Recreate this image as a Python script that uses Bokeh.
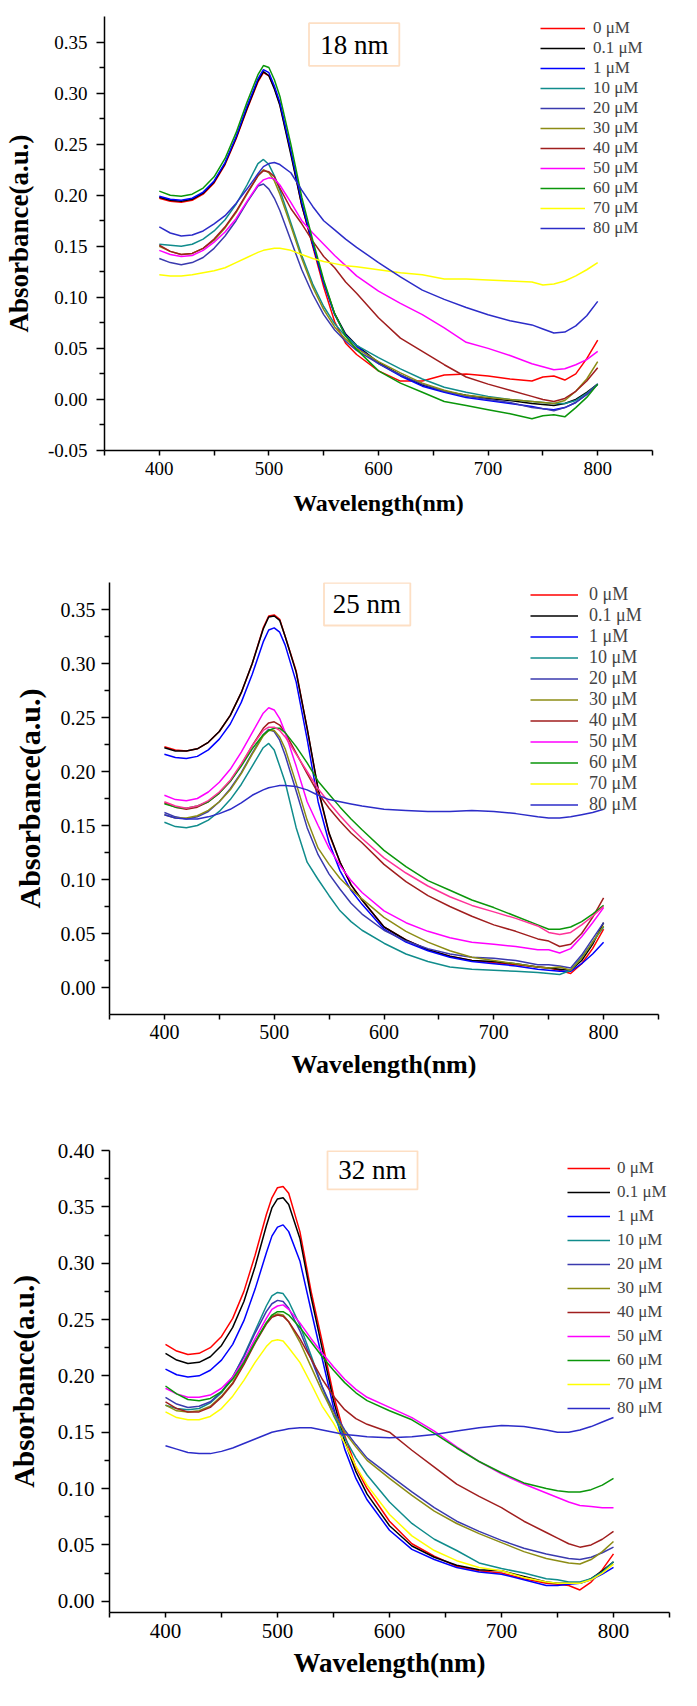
from bokeh.embed import file_html
from bokeh.models import BoxAnnotation, FixedTicker, Label, Legend, LegendItem, PrintfTickFormatter
from bokeh.plotting import figure
from bokeh.resources import INLINE

FONT = "Liberation Serif"

# wavelength grid (nm) shared by every spectrum
wavelength = [400, 410, 420, 430, 440, 450, 460, 470, 480, 490,
              495, 500, 505, 510, 520, 530, 540, 550, 560, 570,
              580, 600, 620, 640, 660, 680, 700, 720, 740, 750,
              760, 770, 780, 790, 800]

conc_labels = ["0 μM", "0.1 μM", "1 μM", "10 μM", "20 μM", "30 μM",
               "40 μM", "50 μM", "60 μM", "70 μM", "80 μM"]
legend_colors = ["#ff0000", "#000000", "#0000ff", "#108c8c", "#3a3aae", "#8c8c14",
                 "#a01e1e", "#ff00ff", "#0a960a", "#ffff00", "#2c2cc8"]

x_ticks = [400, 500, 600, 700, 800]
x_minor = [350, 450, 550, 650, 750, 850]

# ---------------- 18 nm ----------------
s18_0 = [.197, .194, .193, .195, .201, .212, .230, .255, .284, .311,
         .320, .317, .305, .289, .242, .190, .150, .110, .076, .055,
         .044, .028, .018, .018, .024, .025, .023, .020, .018, .022,
         .023, .019, .025, .040, .058]
s18_01 = [.198, .195, .194, .196, .202, .213, .231, .256, .285, .312,
          .321, .317, .304, .288, .240, .190, .152, .115, .084, .064,
          .053, .036, .024, .014, .008, .004, .001, -.001, -.004, -.005,
          -.006, -.004, .000, .007, .015]
s18_1 = [.199, .196, .195, .197, .203, .214, .232, .257, .287, .314,
         .323, .320, .307, .291, .244, .193, .152, .114, .083, .063,
         .052, .035, .023, .013, .007, .002, -.001, -.004, -.007, -.009,
         -.010, -.008, -.003, .005, .015]
s18_10 = [.152, .151, .150, .152, .157, .165, .176, .191, .210, .231,
          .235, .230, .219, .205, .173, .141, .113, .091, .074, .062,
          .053, .041, .030, .020, .012, .007, .003, .000, -.002, -.003,
          -.004, -.004, -.001, .006, .015]
s18_20 = [.138, .134, .132, .134, .139, .148, .160, .175, .193, .209,
          .211, .206, .197, .185, .156, .127, .103, .083, .068, .057,
          .048, .035, .024, .015, .008, .003, .000, -.003, -.008, -.009,
          -.011, -.008, -.003, .005, .015]
s18_30 = [.150, .145, .142, .143, .148, .156, .168, .183, .201, .219,
          .225, .222, .214, .201, .170, .138, .110, .088, .071, .059,
          .050, .037, .026, .016, .009, .004, .002, .000, -.002, -.003,
          -.004, -.001, .008, .020, .037]
s18_40 = [.151, .145, .142, .143, .148, .157, .169, .184, .202, .219,
          .224, .223, .218, .207, .187, .172, .155, .140, .129, .115,
          .104, .080, .060, .047, .034, .022, .015, .009, .003, .000,
          -.002, .001, .008, .018, .031]
s18_50 = [.146, .142, .140, .141, .146, .154, .164, .177, .194, .210,
          .215, .217, .216, .210, .193, .175, .163, .152, .141, .131,
          .121, .106, .094, .083, .070, .056, .050, .043, .035, .032,
          .029, .030, .034, .039, .047]
s18_60 = [.204, .200, .199, .201, .207, .218, .236, .261, .291, .318,
          .327, .325, .313, .297, .250, .198, .156, .117, .084, .062,
          .049, .028, .016, .007, -.002, -.006, -.010, -.014, -.019, -.016,
          -.015, -.017, -.008, .002, .015]
s18_70 = [.122, .121, .121, .122, .124, .126, .129, .134, .139, .144,
          .146, .147, .148, .148, .146, .142, .138, .135, .133, .131,
          .130, .127, .124, .122, .118, .118, .117, .116, .115, .112,
          .113, .116, .121, .127, .134]
s18_80 = [.169, .163, .160, .161, .165, .172, .180, .192, .206, .221,
          .228, .231, .232, .230, .222, .205, .189, .175, .166, .157,
          .149, .134, .120, .107, .098, .090, .083, .077, .073, .069,
          .065, .066, .072, .082, .096]

# ---------------- 25 nm ----------------
s25_0 = [.223, .220, .219, .221, .227, .237, .252, .273, .300, .333,
         .344, .345, .341, .325, .293, .240, .183, .142, .116, .095,
         .081, .056, .044, .035, .029, .025, .023, .021, .019, .018,
         .016, .013, .022, .036, .054]
s25_01 = [.222, .219, .219, .221, .227, .237, .252, .273, .300, .332,
          .343, .344, .340, .325, .292, .240, .184, .143, .116, .095,
          .081, .056, .044, .035, .029, .025, .024, .022, .019, .018,
          .017, .016, .025, .040, .060]
s25_1 = [.216, .213, .212, .214, .220, .230, .244, .264, .290, .320,
         .331, .333, .329, .317, .283, .230, .172, .134, .108, .090,
         .077, .054, .042, .034, .028, .024, .022, .020, .017, .016,
         .015, .015, .022, .031, .042]
s25_10 = [.153, .149, .148, .150, .155, .163, .174, .188, .205, .222,
          .226, .220, .205, .190, .148, .116, .100, .085, .071, .061,
          .053, .041, .031, .024, .019, .017, .016, .015, .014, .013,
          .012, .016, .028, .042, .056]
s25_20 = [.162, .158, .156, .158, .163, .172, .184, .199, .217, .234,
          .239, .237, .229, .215, .182, .148, .123, .105, .091, .078,
          .068, .053, .043, .036, .031, .028, .027, .025, .021, .021,
          .020, .018, .030, .045, .060]
s25_30 = [.160, .157, .157, .159, .164, .172, .183, .198, .216, .233,
          .238, .238, .232, .221, .189, .155, .129, .114, .101, .091,
          .082, .065, .052, .042, .034, .028, .025, .022, .019, .018,
          .019, .016, .027, .042, .057]
s25_40 = [.171, .167, .165, .167, .172, .180, .191, .206, .224, .240,
          .245, .246, .243, .236, .217, .198, .180, .166, .154, .143,
          .134, .114, .098, .085, .075, .066, .058, .052, .045, .043,
          .038, .040, .050, .065, .083]
s25_50 = [.178, .174, .173, .175, .181, .190, .202, .218, .236, .254,
          .259, .257, .249, .236, .205, .172, .150, .129, .113, .099,
          .088, .071, .060, .052, .046, .042, .040, .038, .035, .035,
          .032, .036, .047, .060, .074]
s25_60 = [.170, .167, .166, .168, .172, .180, .191, .205, .221, .234,
          .238, .240, .240, .236, .223, .208, .191, .179, .167, .156,
          .146, .127, .112, .099, .090, .081, .074, .066, .058, .054,
          .054, .056, .061, .068, .076]
s25_70 = [.172, .168, .166, .168, .173, .181, .192, .207, .224, .238,
          .241, .241, .238, .232, .216, .200, .184, .171, .159, .148,
          .138, .120, .106, .094, .084, .076, .070, .064, .057, .051,
          .049, .051, .058, .066, .075]
s25_80 = [.160, .157, .156, .156, .158, .161, .165, .171, .178, .183,
          .185, .186, .187, .187, .186, .183, .178, .174, .172, .170,
          .168, .165, .164, .163, .163, .164, .163, .161, .158, .157,
          .157, .158, .160, .162, .165]

# ---------------- 32 nm ----------------
s32_0 = [.228, .222, .219, .220, .225, .235, .251, .275, .307, .343,
         .358, .367, .368, .362, .328, .275, .230, .183, .147, .119,
         .100, .071, .051, .040, .031, .027, .025, .020, .016, .015,
         .014, .010, .017, .028, .042]
s32_01 = [.220, .214, .211, .212, .217, .227, .243, .266, .297, .333,
          .349, .357, .358, .352, .322, .270, .224, .178, .142, .115,
          .095, .067, .049, .039, .032, .028, .027, .022, .017, .016,
          .016, .016, .020, .027, .035]
s32_1 = [.206, .201, .199, .200, .205, .214, .228, .249, .277, .309,
         .324, .332, .334, .328, .302, .258, .215, .172, .135, .109,
         .090, .063, .046, .037, .030, .026, .024, .019, .014, .014,
         .015, .016, .019, .024, .030]
s32_10 = [.174, .171, .170, .171, .176, .185, .199, .218, .240, .262,
          .271, .274, .273, .266, .245, .218, .190, .165, .145, .127,
          .112, .088, .069, .055, .045, .034, .029, .025, .020, .019,
          .017, .017, .020, .026, .035]
s32_20 = [.181, .175, .172, .173, .177, .186, .199, .217, .238, .257,
          .264, .267, .266, .260, .240, .215, .190, .169, .152, .139,
          .127, .112, .097, .083, .071, .062, .054, .047, .042, .040,
          .038, .037, .039, .043, .048]
s32_30 = [.174, .169, .168, .169, .173, .182, .194, .211, .230, .247,
          .253, .255, .254, .248, .230, .208, .186, .166, .150, .137,
          .125, .109, .094, .080, .069, .060, .052, .044, .038, .036,
          .034, .033, .037, .044, .053]
s32_40 = [.177, .171, .168, .168, .172, .181, .193, .210, .229, .246,
          .252, .254, .253, .248, .233, .215, .197, .182, .170, .162,
          .157, .150, .134, .119, .104, .093, .083, .071, .061, .056,
          .051, .048, .050, .055, .062]
s32_50 = [.189, .184, .181, .181, .183, .189, .199, .214, .233, .251,
          .259, .262, .263, .259, .247, .233, .220, .208, .197, .188,
          .181, .172, .163, .151, .137, .124, .113, .104, .096, .092,
          .088, .085, .084, .083, .083]
s32_60 = [.191, .184, .179, .178, .180, .186, .197, .212, .230, .247,
          .254, .257, .257, .254, .243, .230, .217, .205, .194, .185,
          .178, .169, .161, .149, .136, .124, .114, .105, .100, .098,
          .097, .097, .099, .103, .109]
s32_70 = [.168, .163, .161, .161, .164, .171, .182, .196, .212, .226,
          .231, .232, .231, .225, .212, .193, .173, .158, .140, .120,
          .103, .077, .058, .045, .036, .030, .027, .021, .017, .016,
          .016, .016, .019, .025, .033]
s32_80 = [.138, .135, .132, .131, .131, .133, .136, .140, .144, .148,
          .150, .151, .152, .153, .154, .154, .152, .150, .148, .147,
          .146, .145, .146, .148, .151, .154, .156, .155, .152, .150,
          .150, .152, .155, .159, .163]

y_ticks_18 = [-0.05, 0.0, 0.05, 0.10, 0.15, 0.20, 0.25, 0.30, 0.35]
y_minor_18 = [-0.025, 0.025, 0.075, 0.125, 0.175, 0.225, 0.275, 0.325]
y_ticks_25 = [0.0, 0.05, 0.10, 0.15, 0.20, 0.25, 0.30, 0.35]
y_minor_25 = [0.025, 0.075, 0.125, 0.175, 0.225, 0.275, 0.325]
y_ticks_32 = [0.0, 0.05, 0.10, 0.15, 0.20, 0.25, 0.30, 0.35, 0.40]
y_minor_32 = [0.025, 0.075, 0.125, 0.175, 0.225, 0.275, 0.325, 0.375]


def make_panel(series, line_colors, size_text, y_range, y_ticks, y_minor, lay):
    p = figure(width=681, height=lay["height"], x_range=(350, 850), y_range=y_range,
               output_backend="svg", toolbar_location=None,
               min_border_left=lay["left"], min_border_right=lay["right"],
               min_border_top=lay["top"], min_border_bottom=lay["bottom"],
               outline_line_color=None, background_fill_color="white",
               border_fill_color="white")
    p.xgrid.visible = False
    p.ygrid.visible = False

    items = []
    for lab, ys, c, key_c in zip(conc_labels, series, line_colors, legend_colors):
        r = p.line(wavelength, ys, line_color=c, line_width=1.5)
        if key_c != c:
            # key colour differs from the trace: give the key its own (empty) line
            r = p.line([float("nan")], [float("nan")], line_color=key_c, line_width=1.5)
        items.append(LegendItem(label=lab, renderers=[r]))
    leg = Legend(items=items, location=lay["leg_loc"],
                 glyph_width=lay["leg_glyph"], glyph_height=lay["leg_row"],
                 label_height=lay["leg_row"], spacing=0, padding=0, margin=0,
                 label_standoff=lay["leg_standoff"],
                 label_text_font=FONT, label_text_font_size=lay["leg_font"],
                 border_line_color=None, background_fill_alpha=0)
    p.add_layout(leg)

    bx = lay["box"]
    p.add_layout(BoxAnnotation(left=bx[0], right=bx[1], bottom=bx[2], top=bx[3],
                               left_units="screen", right_units="screen",
                               bottom_units="screen", top_units="screen",
                               fill_alpha=0, line_color="#f7943a", line_width=1.8))
    p.add_layout(Label(x=lay["text"][0], y=lay["text"][1], x_units="screen", y_units="screen",
                       text=size_text, text_font=FONT, text_font_size=lay["title_font"],
                       text_align="center", text_baseline="middle", text_color="black"))

    for ax in (p.xaxis[0], p.yaxis[0]):
        ax.axis_line_width = 1.5
        ax.major_tick_line_width = 1.5
        ax.minor_tick_line_width = 1.5
        ax.major_tick_in = 0
        ax.minor_tick_in = 0
        ax.major_label_text_font = FONT
        ax.major_label_text_font_size = lay["tick_font"]
        ax.major_label_text_color = "black"
        ax.axis_label_text_font = FONT
        ax.axis_label_text_font_style = "bold"
        ax.axis_label_text_color = "black"

    xa = p.xaxis[0]
    xa.ticker = FixedTicker(ticks=x_ticks, minor_ticks=x_minor)
    xa.major_tick_out = 5
    xa.minor_tick_out = 5
    xa.major_label_standoff = lay["x_std"]
    xa.axis_label = "Wavelength(nm)"
    xa.axis_label_text_font_size = lay["xlab_font"]
    xa.axis_label_standoff = lay["x_ast"]

    ya = p.yaxis[0]
    ya.ticker = FixedTicker(ticks=y_ticks, minor_ticks=y_minor)
    ya.formatter = PrintfTickFormatter(format="%.2f")
    ya.major_tick_out = 8
    ya.minor_tick_out = 5
    ya.major_label_standoff = lay["y_std"]
    ya.axis_label = "Absorbance(a.u.)"
    ya.axis_label_text_font_size = lay["ylab_font"]
    ya.axis_label_standoff = lay["y_ast"]
    return p


lines_common = legend_colors
# in the 25 nm panel the 70 μM trace is drawn in pink
lines_25 = legend_colors[:9] + ["#ff3399"] + legend_colors[10:]

p18 = make_panel(
    [s18_0, s18_01, s18_1, s18_10, s18_20, s18_30, s18_40, s18_50, s18_60, s18_70, s18_80],
    lines_common, "18 nm", (-0.05, 0.375), y_ticks_18, y_minor_18,
    dict(height=547, left=98, right=29, top=16, bottom=97,
         tick_font="19px", xlab_font="24px", ylab_font="27px",
         x_std=6, x_ast=12, y_std=9, y_ast=11,
         leg_loc=(436, 212), leg_glyph=45, leg_row=20, leg_standoff=8, leg_font="17px",
         box=(204.5, 294.8, 384.7, 427.3), text=(250, 406), title_font="27px"))

p25 = make_panel(
    [s25_0, s25_01, s25_1, s25_10, s25_20, s25_30, s25_40, s25_50, s25_60, s25_70, s25_80],
    lines_25, "25 nm", (-0.025, 0.375), y_ticks_25, y_minor_25,
    dict(height=555, left=109, right=23, top=35, bottom=88,
         tick_font="20px", xlab_font="26px", ylab_font="30px",
         x_std=5, x_ast=8, y_std=6, y_ast=12,
         leg_loc=(421, 199), leg_glyph=48, leg_row=21, leg_standoff=11, leg_font="18px",
         box=(214.5, 300.8, 389, 431.6), text=(257.5, 410.5), title_font="27px"))

p32 = make_panel(
    [s32_0, s32_01, s32_1, s32_10, s32_20, s32_30, s32_40, s32_50, s32_60, s32_70, s32_80],
    lines_common, "32 nm", (-0.01, 0.40), y_ticks_32, y_minor_32,
    dict(height=588, left=109, right=12, top=48, bottom=78,
         tick_font="21px", xlab_font="27px", ylab_font="29px",
         x_std=6, x_ast=7, y_std=7, y_ast=15,
         leg_loc=(458, 192), leg_glyph=43, leg_row=24, leg_standoff=7, leg_font="17px",
         box=(218, 308, 423.1, 461.5), text=(263, 443), title_font="27px"))

# three separate roots so that Bokeh does not line up the frames of the panels
open("out.html", "w").write(file_html([p18, p25, p32], INLINE))
